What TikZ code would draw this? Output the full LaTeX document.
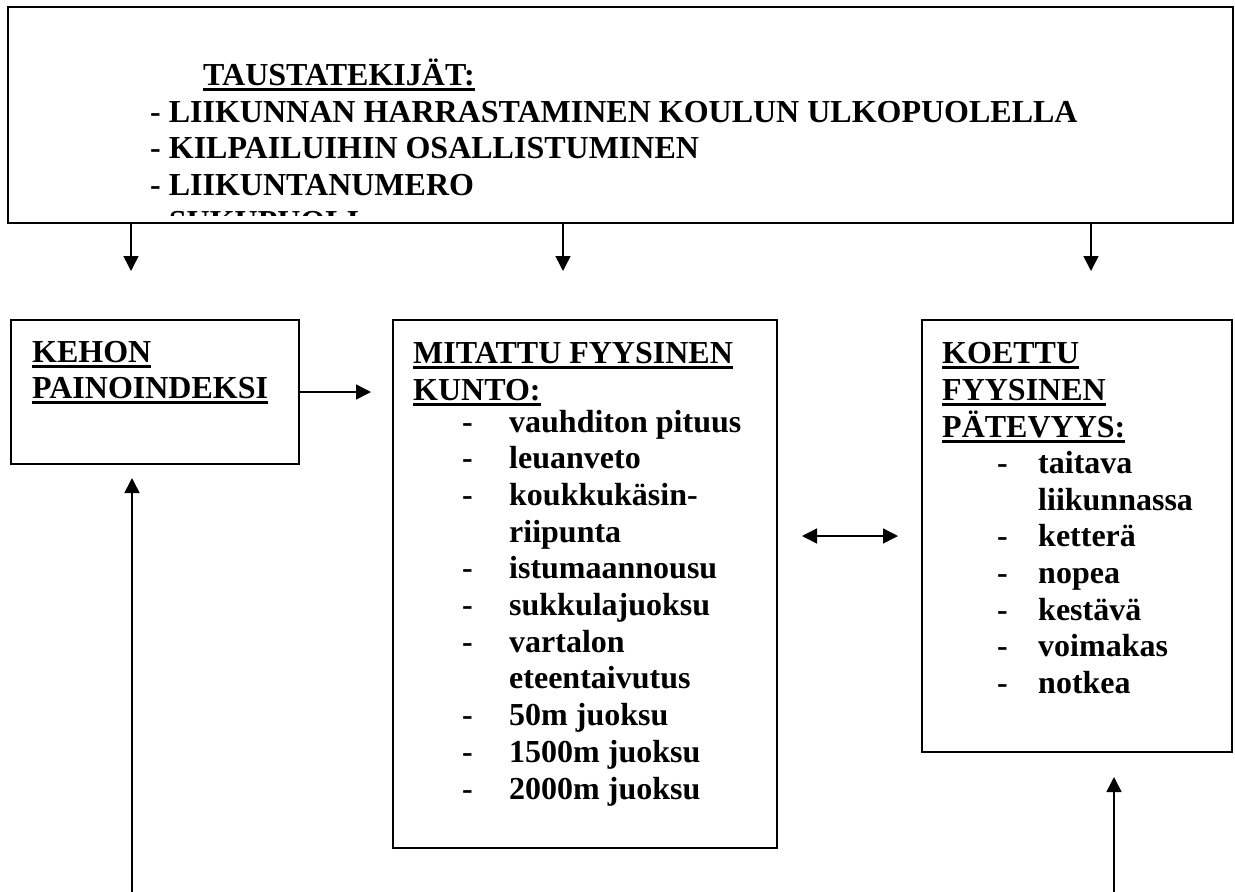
\documentclass[tikz,border=0pt]{standalone}
\usepackage{fontspec}
\setmainfont{Liberation Serif}
\usetikzlibrary{arrows.meta}
% heading text with a heavy underline
\newcommand\ulhead[1]{\setbox0\hbox{#1}\rlap{\rule[-5.5pt]{\wd0}{3pt}}\box0}
\begin{document}
\begin{tikzpicture}[x=1pt,y=-1pt,
  txt/.style={anchor=base west, inner sep=0pt, font=\fontsize{32pt}{36.7pt}\selectfont\bfseries},
  frame/.style={draw, line width=2pt, inner sep=0pt, outer sep=0pt},
  tip/.tip={Triangle[length=15pt,width=15pt]},
  arr/.style={line width=1.5pt, -tip}]
\useasboundingbox (0,0) rectangle (1235,892);

% frames
\node[frame, minimum width=1225pt, minimum height=216pt] (top) at (620.5,115) {};
\node[frame, minimum width=288pt, minimum height=144pt] (bmi) at (155,392) {};
\node[frame, minimum width=384pt, minimum height=528pt] (mit) at (585,584) {};
\node[frame, minimum width=310pt, minimum height=432pt] (koe) at (1077,536) {};

% background factors (the last line runs past the frame and is cut off)
\node[txt] (th) at (203,85.5) {\ulhead{TAUSTATEKIJÄT:}};
\node[txt] (ta) at (150,122.2) {- LIIKUNNAN HARRASTAMINEN KOULUN ULKOPUOLELLA};
\node[txt] (tb) at (150,158.9) {- KILPAILUIHIN OSALLISTUMINEN};
\node[txt] (tc) at (150,195.6) {- LIIKUNTANUMERO};
\begin{scope}
  \clip (8,7) rectangle (1233,215);
  \node[txt] (td) at (150,232.3) {- SUKUPUOLI};
\end{scope}

% body mass index
\node[txt] (bh1) at (32,362) {\ulhead{KEHON}};
\node[txt] (bh2) at (32,398) {\ulhead{PAINOINDEKSI}};

% measured fitness
\node[txt] (mh1) at (413,363) {\ulhead{MITATTU FYYSINEN}};
\node[txt] (mh2) at (413,400) {\ulhead{KUNTO:}};
\foreach \t [count=\k from 0] in {vauhditon pituus,leuanveto,koukkukäsin-,riipunta,istumaannousu,sukkulajuoksu,vartalon,eteentaivutus,50m juoksu,1500m juoksu,2000m juoksu}
  \node[txt] (mi\k) at (509,432+36.7*\k) {\t};
\foreach \k in {0,1,2,4,5,6,8,9,10}
  \node[txt] (md\k) at (462,432+36.7*\k) {-};

% perceived competence
\node[txt] (kh1) at (942,363) {\ulhead{KOETTU}};
\node[txt] (kh2) at (942,400) {\ulhead{FYYSINEN}};
\node[txt] (kh3) at (942,437) {\ulhead{PÄTEVYYS:}};
\foreach \t [count=\k from 0] in {taitava,liikunnassa,ketterä,nopea,kestävä,voimakas,notkea}
  \node[txt] (ki\k) at (1038,473.4+36.7*\k) {\t};
\foreach \k in {0,2,3,4,5,6}
  \node[txt] (kd\k) at (997,473.4+36.7*\k) {-};

% connectors
\coordinate (e1) at (131,271);
\coordinate (e2) at (563,271);
\coordinate (e3) at (1091,271);
\draw[arr] (top.south -| e1) -- (e1);
\draw[arr] (top.south -| e2) -- (e2);
\draw[arr] (top.south -| e3) -- (e3);
\draw[arr, shorten >=22pt] (bmi.east) -- (bmi.east -| mit.west);
\draw[line width=1.5pt, tip-tip, shorten <=25pt, shorten >=24pt] (mit.east |- koe) -- (koe.west);
\coordinate (s1) at (132,892);
\coordinate (s2) at (1114,892);
\draw[arr, shorten >=14pt] (s1) -- (s1 |- bmi.south);
\draw[arr, shorten >=25pt] (s2) -- (s2 |- koe.south);
\end{tikzpicture}
\end{document}
